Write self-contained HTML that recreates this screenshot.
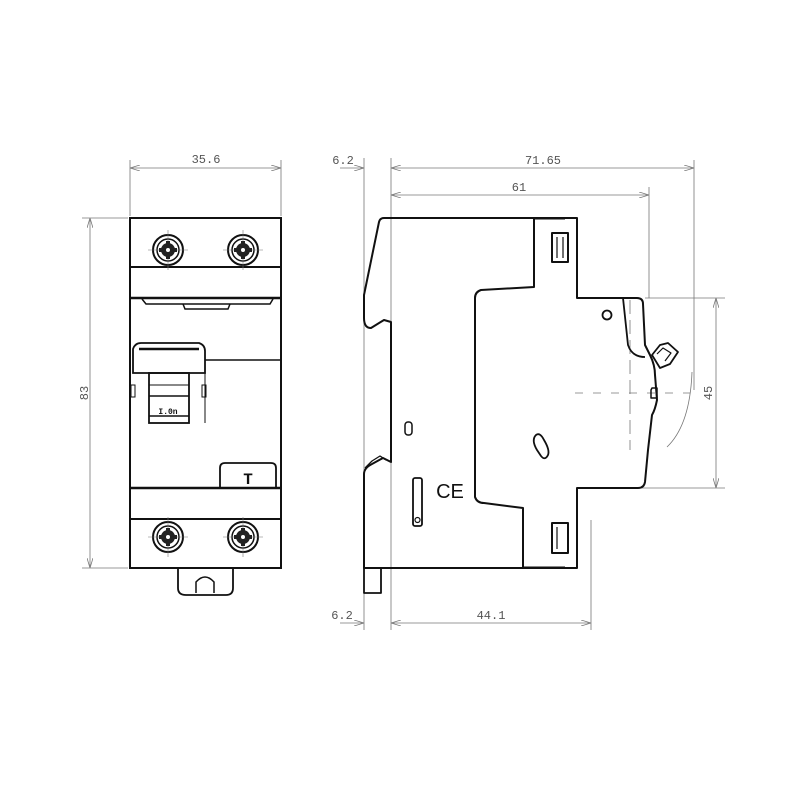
<!DOCTYPE html>
<html><head><meta charset="utf-8"><style>
html,body{margin:0;padding:0;background:#fff;width:800px;height:800px;overflow:hidden}
svg{display:block}
text{font-family:"Liberation Mono",monospace;font-size:12px;fill:#555}
</style></head><body>
<svg width="800" height="800" viewBox="0 0 800 800" xmlns="http://www.w3.org/2000/svg">
<defs>
<marker id="a" markerWidth="10" markerHeight="6" refX="10" refY="3" orient="auto-start-reverse" markerUnits="userSpaceOnUse"><path d="M0,0 L10,3 L0,6" fill="none" stroke="#777" stroke-width="0.8"/></marker>
<g id="scr">
<circle r="15" fill="none" stroke="#111" stroke-width="2"/>
<circle r="11" fill="none" stroke="#111" stroke-width="1.5"/>
<circle r="7" fill="#222"/>
<circle r="3" fill="#fff"/>
<line x1="-20" y1="0" x2="20" y2="0" stroke="#777" stroke-width="0.6"/>
<line x1="0" y1="-20" x2="0" y2="20" stroke="#777" stroke-width="0.6"/>
<rect x="-2" y="-9" width="4" height="18" fill="#222"/><rect x="-9" y="-2" width="18" height="4" fill="#222"/>
<circle r="2" fill="#fff"/>
</g>
</defs>

<!-- FRONT VIEW -->
<g stroke="#777" stroke-width="0.8" fill="none">
<line x1="130" y1="160" x2="130" y2="216"/><line x1="281" y1="160" x2="281" y2="216"/>
<line x1="130" y1="168" x2="281" y2="168" marker-start="url(#a)" marker-end="url(#a)"/>
<line x1="82" y1="218" x2="128" y2="218"/><line x1="82" y1="568" x2="128" y2="568"/>
<line x1="90" y1="218" x2="90" y2="568" marker-start="url(#a)" marker-end="url(#a)"/>
</g>
<text x="206" y="163" text-anchor="middle">35.6</text>
<text x="0" y="0" text-anchor="middle" transform="translate(88,393) rotate(-90)">83</text>

<g stroke="#111" fill="none" stroke-width="2">
<rect x="130" y="218" width="151" height="350"/>
<line x1="130" y1="267" x2="281" y2="267"/>
<line x1="130" y1="298" x2="281" y2="298" stroke-width="2.5"/>
<line x1="205" y1="360" x2="281" y2="360" stroke-width="1.5"/>
<line x1="130" y1="488" x2="281" y2="488" stroke-width="2.5"/>
<line x1="130" y1="519" x2="281" y2="519"/>
<path d="M142,299 L146,304 L270,304 L273,299" stroke-width="1.5"/>
<path d="M183,304 L185,309 L228,309 L230,304" stroke-width="1.5"/>
<path d="M133,373 L133,349 Q135,343 141,343 L199,343 Q205,345 205,351 L205,373 Z" stroke-width="1.8"/>
<path d="M139,349 L199,349" stroke-width="2.5"/>
<rect x="149" y="373" width="40" height="50" stroke-width="1.8"/>
<line x1="149" y1="385" x2="189" y2="385" stroke-width="1"/>
<line x1="149" y1="396" x2="189" y2="396" stroke-width="1.5"/>
<line x1="149" y1="416" x2="189" y2="416" stroke-width="1.5"/>
<rect x="131" y="385" width="4" height="12" stroke-width="1"/>
<rect x="202" y="385" width="4" height="12" stroke-width="1"/>
<line x1="205" y1="373" x2="205" y2="423" stroke-width="1"/>
<path d="M220,488 L220,468 Q220,463 225,463 L271,463 Q276,463 276,468 L276,488" stroke-width="1.8"/>
<path d="M178,568 L178,588 Q178,595 186,595 L226,595 Q233,595 233,588 L233,568" stroke-width="1.8"/>
<path d="M196,593 L196,582 Q205,572 214,582 L214,593" stroke-width="1.5"/>
</g>
<text x="248" y="484" text-anchor="middle" style="font-size:16px;fill:#111;font-weight:bold">T</text>
<text x="168" y="414" text-anchor="middle" style="font-size:8px;fill:#111;font-weight:bold">I.0n</text>
<use href="#scr" x="168" y="250"/><use href="#scr" x="243" y="250"/>
<use href="#scr" x="168" y="537"/><use href="#scr" x="243" y="537"/>

<!-- SIDE VIEW dims -->
<g stroke="#777" stroke-width="0.8" fill="none">
<line x1="364" y1="158" x2="364" y2="630"/>
<line x1="391" y1="158" x2="391" y2="630"/>
<line x1="694" y1="160" x2="694" y2="390"/>
<line x1="649" y1="187" x2="649" y2="298"/>
<line x1="340" y1="168" x2="364" y2="168" marker-end="url(#a)"/>
<line x1="391" y1="168" x2="694" y2="168" marker-start="url(#a)" marker-end="url(#a)"/>
<line x1="391" y1="195" x2="649" y2="195" marker-start="url(#a)" marker-end="url(#a)"/>
<line x1="340" y1="623" x2="364" y2="623" marker-end="url(#a)"/>
<line x1="391" y1="623" x2="591" y2="623" marker-start="url(#a)" marker-end="url(#a)"/>
<line x1="591" y1="520" x2="591" y2="630"/>
<line x1="645" y1="298" x2="725" y2="298"/><line x1="640" y1="488" x2="725" y2="488"/>
<line x1="716" y1="298" x2="716" y2="488" marker-start="url(#a)" marker-end="url(#a)"/>
<line x1="575" y1="393" x2="690" y2="393" stroke-dasharray="8,10"/>
<line x1="630" y1="300" x2="630" y2="450" stroke-dasharray="14,6"/>
<path d="M692,372 Q690,425 667,447"/>
</g>
<text x="343" y="164" text-anchor="middle">6.2</text>
<text x="342" y="619" text-anchor="middle">6.2</text>
<text x="543" y="164" text-anchor="middle">71.65</text>
<text x="519" y="191" text-anchor="middle">61</text>
<text x="491" y="619" text-anchor="middle">44.1</text>
<text x="0" y="0" text-anchor="middle" transform="translate(712,393) rotate(-90)">45</text>

<!-- SIDE VIEW body -->
<g stroke="#111" fill="none" stroke-width="2" stroke-linejoin="round">
<path d="M384,218 L577,218 L577,298 L637,298 Q643,298 643,304 L645,345 L650,355 Q655,365 655,375 L657,400 Q655,410 652,415 L648,450 L645,482 Q644,488 638,488 L577,488 L577,568 L364,568 L364,474 Q364,468 372,464 L383,458 L391,462 L391,322 L384,320 L371,328 Q364,328 364,318 L364,295 L379,222 Q380,218 384,218 Z"/>
<path d="M534,218 L534,287 L481,290 Q475,292 475,298 L475,497 Q477,503 484,503 L523,508 L523,568"/>
<path d="M623,298 L628,345 Q632,357 645,357" stroke-width="1.8"/>
<rect x="552" y="233" width="16" height="29" stroke-width="2"/>
<rect x="552" y="523" width="16" height="30" stroke-width="2"/>
<line x1="557" y1="237" x2="557" y2="258" stroke-width="1.2"/><line x1="563" y1="237" x2="563" y2="258" stroke-width="1.2"/>
<line x1="557" y1="527" x2="557" y2="549" stroke-width="1.2"/>
<circle cx="607" cy="315" r="4.5" stroke-width="1.8"/>
<rect x="405" y="422" width="7" height="13" rx="3" stroke-width="1.5"/>
<rect x="413" y="478" width="9" height="48" rx="2" stroke-width="1.8"/>
<circle cx="417.5" cy="520" r="2.5" stroke-width="1.2"/>
<path d="M536,435 Q531,440 537,450 L541,456 Q545,461 548,455 Q550,450 544,440 Q540,432 536,435 Z" stroke-width="1.8"/>
<path d="M652,355 L660,345 L668,343 L678,352 L670,364 L660,368 Z" stroke-width="1.8"/>
<path d="M657,354 L663,348 L671,353 L665,361" stroke-width="1.2"/>
<path d="M651,390 L652,388 L657,388 L657,398 L651,398 Z" stroke-width="1.5"/>
<path d="M364,568 L364,593 L381,593 L381,568" stroke-width="1.8"/>
<path d="M365,468 L372,461 L380,456 L386,460" stroke-width="1.3"/>
<line x1="534" y1="219" x2="565" y2="219" stroke-width="1"/>
<line x1="523" y1="567" x2="565" y2="567" stroke-width="1"/>
</g>
<text x="450" y="498" text-anchor="middle" style="font-size:20px;fill:#111;font-family:'Liberation Sans',sans-serif">CE</text>
</svg>
</body></html>
